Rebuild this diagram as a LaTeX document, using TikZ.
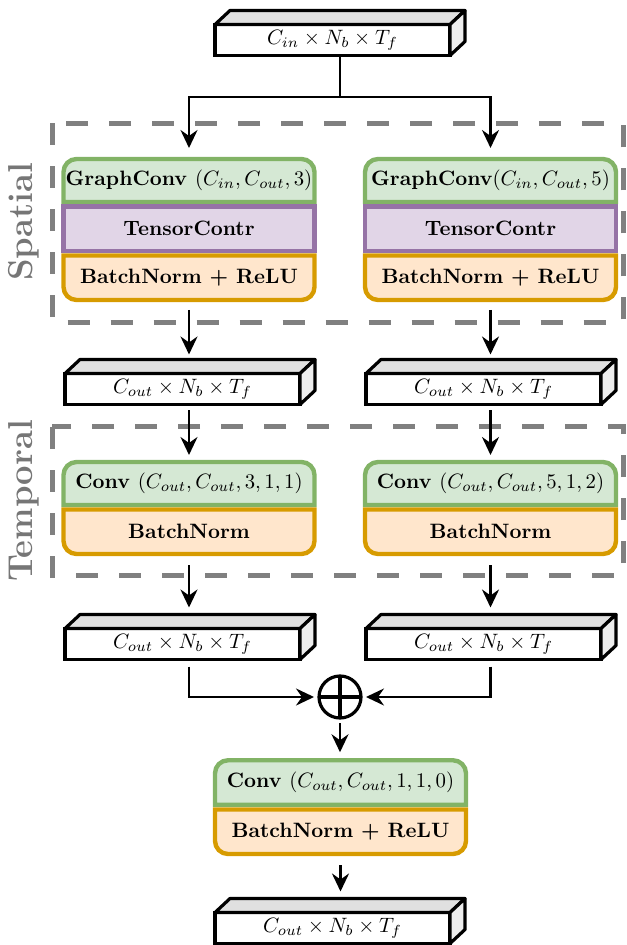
\RequirePackage{fix-cm}
\documentclass[tikz,border=0pt]{standalone}
\usetikzlibrary{arrows.meta}
\pgfdeclarelayer{bg}
\pgfsetlayers{bg,main}

\definecolor{gfill}{RGB}{213,232,212}
\definecolor{gline}{RGB}{130,179,102}
\definecolor{pfill}{RGB}{225,213,231}
\definecolor{pline}{RGB}{150,115,166}
\definecolor{ofill}{RGB}{255,230,204}
\definecolor{oline}{RGB}{215,155,0}
\definecolor{dashgray}{RGB}{128,128,128}
\definecolor{labelgray}{RGB}{118,118,118}

\newcommand\basesize{\fontsize{10.4pt}{12.5pt}\selectfont}

\tikzset{
  tensor/.style={draw, fill=white, line width=1.6pt, minimum width=117.5pt,
    minimum height=15.5pt, inner sep=0pt, outer sep=0pt, font=\basesize},
  facetop/.style={draw, fill=black!12, line width=1.6pt, line join=round},
  faceside/.style={draw, fill=black!7, line width=1.6pt, line join=round},
  layer/.style={minimum width=125.5pt, inner sep=0pt, outer sep=0pt, font=\basesize\bfseries},
  gpart/.style={draw=gline, fill=gfill, line width=2.2pt},
  ppart/.style={draw=pline, fill=pfill, line width=2.2pt},
  opart/.style={draw=oline, fill=ofill, line width=2.2pt},
  region/.style={draw=dashgray, line width=2.5pt, dash pattern=on 11pt off 10.5pt},
  regionlabel/.style={rotate=90, inner sep=0pt, text=labelgray, font=\LARGE\bfseries},
  arr/.style={line width=1.3pt, -{Stealth[length=9pt,width=8.5pt,inset=3pt]}},
  plain/.style={line width=1.3pt},
  sumnode/.style={circle, draw, line width=1.6pt, minimum size=21pt, inner sep=0pt, outer sep=0pt}
}

% top and right faces of a tensor slab
\newcommand\slabfaces[1]{%
  \draw[facetop] (#1.north west) -- ++(15,14) -- ([shift={(15,14)}]#1.north east)
    -- (#1.north east) -- cycle;
  \draw[faceside] (#1.north east) -- ++(15,14) -- ([shift={(15,14)}]#1.south east)
    -- (#1.south east) -- cycle;}

% block segment with rounded upper corners
\newcommand\roundtop[2]{%
  \begin{pgfonlayer}{bg}
  \path[#2] (#1.south west) -- ([yshift=-6.5pt]#1.north west)
    arc[start angle=180,end angle=90,radius=6.5pt]
    -- ([xshift=-6.5pt]#1.north east)
    arc[start angle=90,end angle=0,radius=6.5pt]
    -- (#1.south east) -- cycle;
  \end{pgfonlayer}}

% block segment with square corners
\newcommand\squarepart[2]{%
  \begin{pgfonlayer}{bg}
  \path[#2] (#1.south west) rectangle (#1.north east);
  \end{pgfonlayer}}

% block segment with rounded lower corners
\newcommand\roundbot[2]{%
  \begin{pgfonlayer}{bg}
  \path[#2] (#1.north west) -- ([yshift=6.5pt]#1.south west)
    arc[start angle=180,end angle=270,radius=6.5pt]
    -- ([xshift=-6.5pt]#1.south east)
    arc[start angle=270,end angle=360,radius=6.5pt]
    -- (#1.north east) -- cycle;
  \end{pgfonlayer}}

\begin{document}
\begin{tikzpicture}[x=0.5pt, y=0.5pt]
\useasboundingbox (0,0) rectangle (626,-945);

% dashed regions
\begin{pgfonlayer}{bg}
\draw[region] (52,-123.5) rectangle (623,-323);
\draw[region] (52,-427) rectangle (623,-575);
\end{pgfonlayer}
\node[regionlabel] (lspatial) at (23.5,-222) {Spatial};
\node[regionlabel] (ltemporal) at (23.5,-501) {Temporal};

% input tensor
\node[tensor] (in) at (332.5,-40) {$C_{in} \times N_b \times T_f$};
\slabfaces{in}

% spatial blocks
\node[layer, minimum height=21.5pt] (sAg) at (189,-180.5) {GraphConv $(C_{in}, C_{out}, 3)$};
\node[layer, minimum height=22.25pt] (sAp) at (189,-228.75) {TensorContr};
\node[layer, minimum height=22.25pt] (sAo) at (189,-277.75) {BatchNorm + ReLU};
\roundtop{sAg}{gpart}
\squarepart{sAp}{ppart}
\roundbot{sAo}{opart}

\node[layer, minimum height=21.5pt] (sBg) at (490.5,-180.5) {GraphConv$(C_{in}, C_{out}, 5)$};
\node[layer, minimum height=22.25pt] (sBp) at (490.5,-228.75) {TensorContr};
\node[layer, minimum height=22.25pt] (sBo) at (490.5,-277.75) {BatchNorm + ReLU};
\roundtop{sBg}{gpart}
\squarepart{sBp}{ppart}
\roundbot{sBo}{opart}

% intermediate tensors
\node[tensor] (m1) at (182.5,-389) {$C_{out} \times N_b \times T_f$};
\slabfaces{m1}
\node[tensor] (m2) at (483.5,-389) {$C_{out} \times N_b \times T_f$};
\slabfaces{m2}

% temporal blocks
\node[layer, minimum height=21.5pt] (tAg) at (189,-483.5) {Conv $(C_{out}, C_{out}, 3, 1, 1)$};
\node[layer, minimum height=22.25pt] (tAo) at (189,-531.75) {BatchNorm};
\roundtop{tAg}{gpart}
\roundbot{tAo}{opart}

\node[layer, minimum height=21.5pt] (tBg) at (490.5,-483.5) {Conv $(C_{out}, C_{out}, 5, 1, 2)$};
\node[layer, minimum height=22.25pt] (tBo) at (490.5,-531.75) {BatchNorm};
\roundtop{tBg}{gpart}
\roundbot{tBo}{opart}

% temporal outputs
\node[tensor] (o1) at (182.5,-644) {$C_{out} \times N_b \times T_f$};
\slabfaces{o1}
\node[tensor] (o2) at (483.5,-644) {$C_{out} \times N_b \times T_f$};
\slabfaces{o2}

% sum
\node[sumnode] (sum) at (340,-697) {};
\draw[line width=1.6pt] (sum.north) -- (sum.south) (sum.west) -- (sum.east);

% final block
\node[layer, minimum height=22.25pt] (fg) at (340.5,-782.5) {Conv $(C_{out}, C_{out}, 1, 1, 0)$};
\node[layer, minimum height=22.25pt] (fo) at (340.5,-831.75) {BatchNorm + ReLU};
\roundtop{fg}{gpart}
\roundbot{fo}{opart}

% output tensor
\node[tensor] (out) at (332.5,-928) {$C_{out} \times N_b \times T_f$};
\slabfaces{out}

% connectors
\coordinate (split) at (340,-97);
\draw[plain] ([xshift=3.75pt]in.south) -- (split);
\draw[arr, shorten >=5.5pt] (split) -| (sAg.north);
\draw[arr, shorten >=5.5pt] (split) -| (sBg.north);

\draw[arr, shorten <=5pt, shorten >=9.5pt] (sAo.south) -- (sAo.south |- m1.north);
\draw[arr, shorten <=5pt, shorten >=9.5pt] (sBo.south) -- (sBo.south |- m2.north);

\draw[arr, shorten <=3pt, shorten >=3.5pt] (tAg.north |- m1.south) -- (tAg.north);
\draw[arr, shorten <=3pt, shorten >=3.5pt] (tBg.north |- m2.south) -- (tBg.north);

\draw[arr, shorten <=5.5pt, shorten >=10.5pt] (tAo.south) -- (tAo.south |- o1.north);
\draw[arr, shorten <=5.5pt, shorten >=10.5pt] (tBo.south) -- (tBo.south |- o2.north);

\draw[arr, shorten <=3.5pt, shorten >=2.5pt] (tAo.south |- o1.south) |- (sum.west);
\draw[arr, shorten <=3.5pt, shorten >=2.5pt] (tBo.south |- o2.south) |- (sum.east);

\draw[arr, shorten <=2.5pt, shorten >=4pt] (sum.south) -- (sum.south |- fg.north);
\draw[arr, shorten <=5.5pt, shorten >=10.5pt] (fo.south) -- (fo.south |- out.north);
\end{tikzpicture}
\end{document}
